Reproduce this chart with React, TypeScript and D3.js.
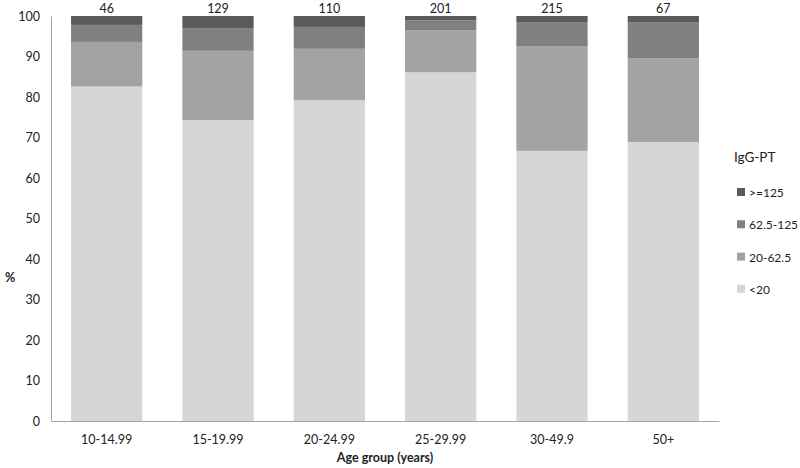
import { useEffect, useRef } from 'react'
import * as d3 from 'd3'

const groups = ['10-14.99', '15-19.99', '20-24.99', '25-29.99', '30-49.9', '50+']
const counts = [46, 129, 110, 201, 215, 67]
const keys = ['<20', '20-62.5', '62.5-125', '>=125']
const lt20 = [82.6, 74.3, 79.2, 86.1, 66.7, 68.9]
const p20to62 = [11.0, 17.1, 12.7, 10.4, 25.9, 20.7]
const p62to125 = [4.2, 5.6, 5.4, 2.4, 5.9, 8.9]
const ge125 = [2.2, 3.0, 2.7, 1.1, 1.5, 1.5]
const yTicks = [0, 10, 20, 30, 40, 50, 60, 70, 80, 90, 100]
const colors = ['#d6d6d6', '#a3a3a3', '#808080', '#5a5a5a']

const FONT = 'Lato, "Open Sans", sans-serif'

const App = () => {
  const ref = useRef<SVGSVGElement | null>(null)

  useEffect(() => {
    if (!ref.current) return
    const svg = d3.select(ref.current)
    svg.selectAll('*').remove()

    const rows = groups.map((g, i) => ({
      group: g,
      '<20': lt20[i],
      '20-62.5': p20to62[i],
      '62.5-125': p62to125[i],
      '>=125': ge125[i],
    }))
    const stacked = d3.stack<any>().keys(keys)(rows)

    const x = d3.scaleBand().domain(groups).range([51, 719]).paddingInner(0.36).paddingOuter(0.18)
    const y = d3.scaleLinear().domain([0, 100]).range([421, 16])
    const color = d3.scaleOrdinal<string>().domain(keys).range(colors)

    // y axis
    const yAxis = svg
      .append('g')
      .attr('transform', 'translate(51,0)')
      .call(d3.axisLeft(y).tickValues(yTicks).tickSize(0).tickPadding(11))
    yAxis.select('.domain').attr('stroke', '#a6a6a6')
    yAxis.selectAll('text').attr('font-family', FONT).attr('font-size', 12.5).attr('fill', '#222')

    svg
      .append('g')
      .selectAll('g')
      .data(stacked)
      .join('g')
      .attr('fill', (d) => color(d.key))
      .selectAll('rect')
      .data((d) => d)
      .join('rect')
      .attr('x', (d) => x(d.data.group)!)
      .attr('width', x.bandwidth())
      .attr('y', (d) => y(Math.min(d[1], 100)))
      .attr('height', (d) => y(d[0]) - y(Math.min(d[1], 100)))

    // x axis
    const xAxis = svg
      .append('g')
      .attr('transform', 'translate(0,421)')
      .call(d3.axisBottom(x).tickSize(0).tickPadding(14).tickSizeOuter(0))
    xAxis.select('.domain').attr('stroke', '#a6a6a6')
    xAxis.selectAll('text').attr('font-family', FONT).attr('font-size', 12.5).attr('fill', '#222')

    // counts
    svg
      .append('g')
      .selectAll('text')
      .data(groups)
      .join('text')
      .attr('x', (g) => x(g)! + x.bandwidth() / 2)
      .attr('y', y(100) - 3)
      .attr('text-anchor', 'middle')
      .attr('font-family', FONT)
      .attr('font-size', 12.5)
      .attr('fill', '#222')
      .text((_, i) => counts[i])

    svg
      .append('text')
      .attr('x', 385)
      .attr('y', 462)
      .attr('text-anchor', 'middle')
      .attr('font-family', FONT)
      .attr('font-size', 12.5)
      .attr('font-weight', 'bold')
      .attr('fill', '#222')
      .text('Age group (years)')

    svg
      .append('text')
      .attr('x', 10)
      .attr('y', 282)
      .attr('text-anchor', 'middle')
      .attr('font-family', FONT)
      .attr('font-size', 12.5)
      .attr('font-weight', 'bold')
      .attr('fill', '#222')
      .text('%')

    // legend
    const legend = svg.append('g').attr('transform', 'translate(734,0)')
    legend
      .append('text')
      .attr('x', 0)
      .attr('y', 162)
      .attr('font-family', FONT)
      .attr('font-size', 13.5)
      .attr('fill', '#222')
      .text('IgG-PT')
    const items = keys.slice().reverse()
    const li = legend
      .selectAll('g.item')
      .data(items)
      .join('g')
      .attr('class', 'item')
      .attr('transform', (_, i) => `translate(0,${193 + i * 32.3})`)
    li.append('rect').attr('x', 3).attr('y', -5).attr('width', 8).attr('height', 8).attr('fill', (d) => color(d))
    li.append('text')
      .attr('x', 15)
      .attr('y', 4)
      .attr('font-family', FONT)
      .attr('font-size', 12)
      .attr('fill', '#222')
      .text((d) => d)
  }, [])

  return (
    <svg
      ref={ref}
      width={800}
      height={468}
      style={{ position: 'absolute', left: 0, top: 0, display: 'block', background: '#fff' }}
    />
  )
}

export default App
